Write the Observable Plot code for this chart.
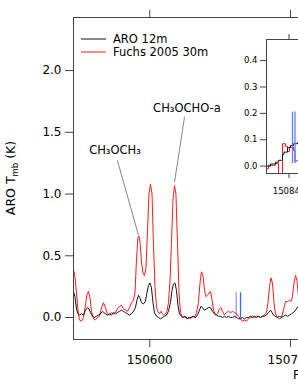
<!DOCTYPE html>
<html><head><meta charset="utf-8">
<script src="https://cdn.jsdelivr.net/npm/d3@7"></script>
<script src="https://cdn.jsdelivr.net/npm/@observablehq/plot@0.6"></script>
<style>
html,body{margin:0;padding:0;background:#fff;overflow:hidden;}
#wrap{position:relative;width:298px;height:385px;overflow:hidden;background:#fff;}
#main{position:absolute;left:0;top:0;width:620px;}
#inset{position:absolute;left:236px;top:31px;width:165px;}
</style></head>
<body><div id="wrap"><div id="main"></div><div id="inset"></div></div>
<script>
// ---- data (frequency in MHz, antenna temperature in K) ----
const fuchs2005 = [[150545.8,0.39],[150546.8,0.33],[150547.9,0.2],[150549.0,0.06],[150550.0,-0.02],[150551.5,-0.03],[150552.9,0.0],[150554.3,0.1],[150555.4,0.19],[150556.4,0.21],[150557.5,0.16],[150558.6,0.05],[150560.0,-0.01],[150561.4,-0.02],[150562.8,0.0],[150564.3,0.01],[150565.7,0.08],[150567.1,0.12],[150568.5,0.08],[150569.9,0.03],[150571.4,0.02],[150572.8,0.04],[150574.2,0.03],[150575.6,0.04],[150577.0,0.07],[150578.5,0.09],[150579.9,0.1],[150581.3,0.07],[150582.7,0.06],[150584.1,0.05],[150585.6,0.08],[150587.0,0.12],[150588.4,0.14],[150589.5,0.2],[150590.5,0.45],[150591.5,0.64],[150592.3,0.66],[150593.2,0.6],[150594.1,0.45],[150595.2,0.36],[150596.2,0.34],[150597.3,0.4],[150598.4,0.7],[150599.4,1.0],[150600.5,1.08],[150601.6,1.0],[150602.6,0.6],[150603.7,0.25],[150604.8,0.08],[150605.8,0.05],[150606.9,0.03],[150608.0,0.05],[150609.0,0.03],[150610.1,0.02],[150611.2,0.03],[150612.2,0.05],[150613.3,0.12],[150614.4,0.3],[150615.4,0.6],[150616.5,0.95],[150617.6,1.07],[150618.6,1.0],[150619.7,0.6],[150620.8,0.2],[150621.8,0.04],[150623.2,0.0],[150624.7,0.01],[150626.1,-0.01],[150627.5,0.0],[150628.9,-0.01],[150630.3,0.01],[150631.8,0.0],[150633.2,0.04],[150634.6,0.12],[150635.7,0.28],[150636.7,0.37],[150637.8,0.34],[150638.9,0.22],[150639.9,0.17],[150641.0,0.18],[150642.1,0.2],[150643.1,0.21],[150644.2,0.15],[150645.3,0.06],[150646.7,0.02],[150648.1,0.03],[150649.5,0.07],[150650.6,0.08],[150651.7,0.05],[150653.1,0.02],[150654.5,0.04],[150655.9,0.05],[150657.4,0.04],[150658.8,0.05],[150660.2,0.04],[150661.6,0.03],[150663.0,0.01],[150664.5,-0.01],[150665.9,-0.03],[150667.3,-0.02],[150668.7,-0.03],[150670.1,-0.01],[150671.6,0.0],[150673.0,0.01],[150674.4,0.0],[150675.8,0.01],[150677.3,0.01],[150678.7,0.0],[150680.1,0.01],[150681.5,0.02],[150682.9,0.04],[150684.0,0.12],[150685.1,0.25],[150686.1,0.32],[150687.2,0.28],[150688.3,0.12],[150689.3,0.03],[150690.8,0.0],[150692.2,-0.01],[150693.6,0.0],[150695.0,0.06],[150696.5,0.13],[150697.9,0.13],[150699.3,0.14],[150700.4,0.13],[150701.4,0.17],[150702.5,0.28],[150703.6,0.34],[150704.6,0.3],[150705.7,0.17],[150707.1,0.1],[150709.2,0.05]];

const aro12m = [[150545.8,0.21],[150546.8,0.17],[150547.9,0.07],[150549.0,0.03],[150550.0,0.02],[150551.5,0.03],[150552.9,0.02],[150554.3,0.06],[150555.7,0.08],[150556.8,0.07],[150557.9,0.04],[150559.3,0.01],[150560.7,0.0],[150562.1,0.01],[150563.5,0.02],[150565.0,0.03],[150566.4,0.05],[150567.4,0.04],[150568.5,0.03],[150569.9,0.02],[150571.4,0.03],[150572.8,0.02],[150574.2,0.04],[150575.6,0.03],[150577.0,0.04],[150578.5,0.05],[150579.9,0.06],[150581.3,0.05],[150582.7,0.04],[150584.1,0.03],[150585.6,0.02],[150587.0,0.03],[150588.4,0.05],[150589.8,0.08],[150590.9,0.14],[150592.0,0.18],[150593.0,0.16],[150594.1,0.12],[150595.5,0.11],[150596.9,0.13],[150598.0,0.2],[150599.1,0.26],[150600.1,0.28],[150601.2,0.24],[150602.3,0.12],[150603.3,0.04],[150604.8,0.01],[150606.2,0.0],[150607.6,-0.01],[150609.0,0.0],[150610.4,0.01],[150611.9,0.02],[150613.3,0.05],[150614.7,0.12],[150615.8,0.22],[150616.8,0.27],[150617.9,0.28],[150619.0,0.22],[150620.0,0.1],[150621.1,0.03],[150622.5,0.01],[150624.0,0.0],[150625.4,0.01],[150626.8,-0.01],[150628.2,0.0],[150629.6,0.0],[150631.1,0.01],[150632.5,0.0],[150633.9,0.02],[150635.3,0.06],[150636.4,0.09],[150637.5,0.08],[150638.9,0.06],[150640.3,0.07],[150641.7,0.08],[150643.1,0.08],[150644.6,0.05],[150646.0,0.03],[150647.4,0.02],[150648.8,0.01],[150650.3,0.01],[150651.7,0.0],[150653.1,0.01],[150654.5,0.0],[150655.9,0.01],[150657.4,0.0],[150658.8,0.0],[150660.2,0.01],[150661.6,0.0],[150663.0,-0.01],[150664.5,-0.01],[150665.9,0.0],[150667.3,-0.01],[150668.7,0.0],[150670.1,0.0],[150671.6,0.01],[150673.0,0.0],[150674.4,0.01],[150675.8,0.0],[150677.3,0.01],[150678.7,0.0],[150680.1,0.01],[150681.5,0.01],[150682.9,0.02],[150684.4,0.04],[150685.8,0.06],[150686.9,0.04],[150687.9,0.02],[150689.3,0.01],[150690.8,0.0],[150692.2,0.01],[150693.6,0.0],[150695.0,0.01],[150696.5,0.02],[150697.9,0.01],[150699.3,0.02],[150700.7,0.03],[150702.1,0.04],[150703.6,0.06],[150705.0,0.085],[150707.1,0.1],[150709.2,0.09]];

// predicted line positions (sticks): frequency, height, colour
const stickFreq = [150661.4, 150664.5];
const stickTop = [0.2, 0.2];
const stickColor = ["#86a3ff", "#3b66ff"];

// inset (zoom on 150840 MHz region)
const insetFuchs = [[150835.5,-0.01],[150835.9,0.003],[150837.3,0.01],[150837.9,-0.06],[150838.7,0.085],[150839.3,0.075],[150839.7,0.055],[150840.1,0.072],[150840.9,0.06],[150841.2,0.02],[150842.0,0.03],[150842.8,0.05],[150843.5,0.04],[150844.5,0.04]];
const insetAro = [[150835.5,0.0],[150836.3,0.008],[150837.3,0.015],[150837.9,0.022],[150838.7,0.045],[150839.0,0.053],[150839.7,0.07],[150840.3,0.078],[150840.9,0.085],[150841.7,0.09],[150842.5,0.1],[150843.5,0.1],[150844.5,0.1]];
const insetStickFreq = [150840.7, 150841.2];
const insetStickBase = 0.01;
const insetStickTop = 0.205;

// annotations
const annLabels = ["CH\u2083OCH\u2083", "CH\u2083OCHO-a"];
const annTextX = [150575.3, 150626.4];
const annTextY = [1.354, 1.696];
const annFromX = [150577.0, 150624.7];
const annFromY = [1.273, 1.623];
const annToX = [150592.0, 150617.6];
const annToY = [0.666, 1.096];

// ticks
const xTicks = [150600, 150700, 150800, 150900];
const yTicks = [0, 0.5, 1.0, 1.5, 2.0];
const insetXTicks = [150840];
const insetYTicks = [0, 0.1, 0.2, 0.3, 0.4];
const seriesNames = ["ARO 12m", "Fuchs 2005 30m"];
const seriesColors = ["#111111", "#ff1a1a"];

const FONT = "'DejaVu Sans', sans-serif";
const sticks = stickFreq.map((f, i) => ({f, top: stickTop[i], c: stickColor[i]}));
const anns = annLabels.map((t, i) => ({t, tx: annTextX[i], ty: annTextY[i], x1: annFromX[i], y1: annFromY[i], x2: annToX[i], y2: annToY[i]}));

const main = Plot.plot({
  width: 620, height: 385,
  marginLeft: 73, marginRight: 13, marginTop: 17, marginBottom: 46,
  style: {fontFamily: FONT, fontSize: "12px", background: "white", color: "#000", maxWidth: "none"},
  x: {domain: [150545.8, 150925.3]},
  y: {domain: [-0.178, 2.43]},
  marks: [
    Plot.ruleX(sticks, {x: "f", y1: -0.005, y2: "top", stroke: "c", strokeWidth: 1.3}),
    Plot.line(fuchs2005, {x: d => d[0], y: d => d[1], stroke: seriesColors[1], strokeWidth: 1, clip: true}),
    Plot.line(aro12m, {x: d => d[0], y: d => d[1], stroke: seriesColors[0], strokeWidth: 1, clip: true}),
    Plot.link(anns, {x1: "x1", y1: "y1", x2: "x2", y2: "y2", stroke: "#777", strokeWidth: 0.9}),
    Plot.text(anns, {x: "tx", y: "ty", text: "t", fontSize: 11.5, fill: "#000"}),
    Plot.frame({stroke: "#444"}),
    Plot.axisY({ticks: yTicks, tickFormat: d3.format(".1f"), tickSize: 8, tickPadding: 4, label: null, stroke: "#444"}),
    Plot.axisX({ticks: xTicks, tickFormat: d3.format("d"), tickSize: 8, tickPadding: 8, label: null, stroke: "#444"}),
    Plot.axisX({anchor: "top", ticks: xTicks, tickFormat: () => "", tickSize: 8, label: null, stroke: "#444"})
  ]
});
document.getElementById("main").appendChild(main);

// legend, axis titles
const svg = d3.select(main);
const leg = svg.append("g").attr("font-family", FONT).attr("font-size", 11.5).attr("text-anchor", "start");
seriesNames.forEach((name, i) => {
  const y = 39 + i * 13;
  leg.append("line").attr("x1", 81).attr("x2", 106).attr("y1", y).attr("y2", y).attr("stroke", seriesColors[i]).attr("stroke-width", 1);
  leg.append("text").attr("x", 113).attr("y", y).attr("dy", "0.35em").attr("fill", "#000").text(name);
});
const yl = svg.append("text").attr("transform", "translate(15,178) rotate(-90)")
  .attr("text-anchor", "middle").attr("font-family", FONT).attr("font-size", 12.5).attr("fill", "#000");
yl.append("tspan").text("ARO T");
yl.append("tspan").attr("dy", 3).attr("font-size", 8.5).text("mb");
yl.append("tspan").attr("dy", -3).text(" (K)");
svg.append("text").attr("x", 293).attr("y", 379).attr("text-anchor", "start")
  .attr("font-family", FONT).attr("font-size", 12).attr("fill", "#000").text("Frequency (MHz)");

// inset
const inset = Plot.plot({
  width: 165, height: 164,
  marginLeft: 30, marginRight: 5, marginTop: 8, marginBottom: 22,
  style: {fontFamily: FONT, fontSize: "8.5px", background: "transparent", color: "#000", maxWidth: "none"},
  x: {domain: [150835.5, 150861.5]},
  y: {domain: [-0.028, 0.48]},
  marks: [
    Plot.frame({fill: "white", stroke: "#444"}),
    Plot.line(insetFuchs, {x: d => d[0], y: d => d[1], curve: "step-after", stroke: seriesColors[1], strokeWidth: 1, clip: true}),
    Plot.line(insetAro, {x: d => d[0], y: d => d[1], curve: "step-after", stroke: seriesColors[0], strokeWidth: 1, clip: true}),
    Plot.ruleX(insetStickFreq, {y1: insetStickBase, y2: insetStickTop, stroke: "#5d7fff", strokeWidth: 1.3}),
    Plot.frame({stroke: "#444"}),
    Plot.axisY({ticks: insetYTicks, tickFormat: d3.format(".1f"), tickSize: 6, tickPadding: 3, label: null, stroke: "#444"}),
    Plot.axisX({ticks: insetXTicks, tickFormat: d3.format("d"), tickSize: 5, tickPadding: 9, label: null, stroke: "#444"}),
    Plot.axisX({anchor: "top", ticks: insetXTicks, tickFormat: () => "", tickSize: 6, label: null, stroke: "#444"})
  ]
});
document.getElementById("inset").appendChild(inset);
</script>
</body></html>
